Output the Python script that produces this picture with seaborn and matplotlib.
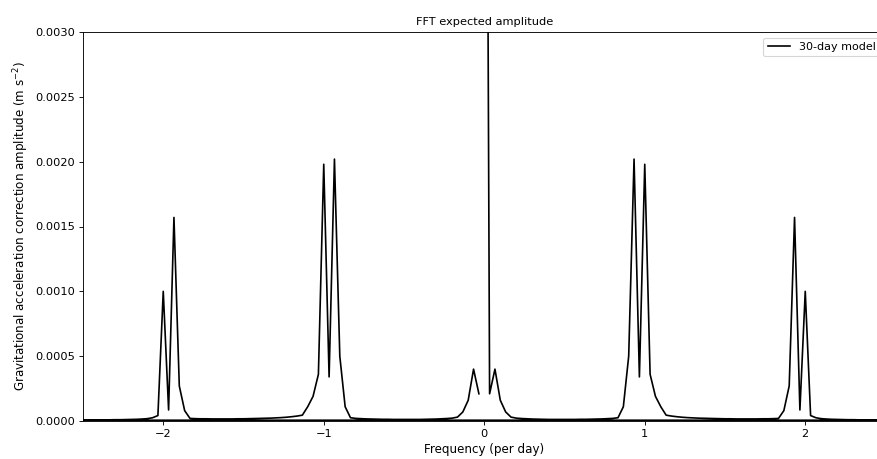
import numpy as np
import pandas as pd
import matplotlib
matplotlib.use("Agg")
import matplotlib.pyplot as plt
import seaborn as sns

# FFT of a 30-day record: bin spacing 1/30 per day, plotted in FFT order
n_days = 30
bins_pos = np.arange(0, 77)      # k = 0 .. 76
bins_neg = np.arange(-76, 0)     # k = -76 .. -1

# amplitudes in units of 1e-4 m s^-2
amp_pos_e4 = [100.0, 2.1, 4.0, 1.6, 0.7, 0.3,
              0.22, 0.19, 0.17, 0.15, 0.14, 0.13, 0.12, 0.12, 0.12, 0.12,
              0.12, 0.12, 0.13, 0.13, 0.14, 0.15, 0.16, 0.18, 0.20, 0.25,
              1.1, 5.0, 20.2, 3.4, 19.8, 3.6, 1.9, 1.1,
              0.45, 0.38, 0.33, 0.29, 0.26, 0.24, 0.22, 0.21, 0.20, 0.19, 0.18,
              0.17, 0.17, 0.16, 0.16, 0.16, 0.16, 0.16, 0.17, 0.17, 0.18,
              0.2, 0.8, 2.7, 15.7, 0.85, 10.0, 0.42,
              0.25, 0.18, 0.15, 0.13, 0.12, 0.11, 0.10, 0.10, 0.09, 0.09,
              0.08, 0.08, 0.07, 0.07, 0.06]
amp_neg_e4 = [0.06, 0.07, 0.07, 0.08, 0.08, 0.09, 0.09, 0.10, 0.10, 0.11,
              0.12, 0.13, 0.15, 0.18, 0.25,
              0.42, 10.0, 0.85, 15.7, 2.7, 0.8, 0.2,
              0.18, 0.17, 0.17, 0.16, 0.16, 0.16, 0.16, 0.16, 0.17, 0.17,
              0.18, 0.19, 0.20, 0.21, 0.22, 0.24, 0.26, 0.29, 0.33, 0.38, 0.45,
              1.1, 1.9, 3.6, 19.8, 3.4, 20.2, 5.0, 1.1,
              0.25, 0.20, 0.18, 0.16, 0.15, 0.14, 0.13, 0.13, 0.12, 0.12,
              0.12, 0.12, 0.12, 0.12, 0.13, 0.14, 0.15, 0.17, 0.19, 0.22,
              0.3, 0.7, 1.6, 4.0, 2.1]

freq = np.concatenate([bins_pos, bins_neg]) / n_days
amp = np.concatenate([amp_pos_e4, amp_neg_e4]) * 1e-4
df = pd.DataFrame({"freq": freq, "amp": amp})

dpi = 80
fig = plt.figure(figsize=(877 / dpi, 459 / dpi), dpi=dpi)
ax = fig.add_axes([83 / 877, 38 / 459, (885.5 - 83) / 877, (421 - 32) / 459])

sns.lineplot(data=df, x="freq", y="amp", sort=False, estimator=None,
             color="black", linewidth=1.5, label="30-day model", ax=ax)

ax.set_xlim(-2.5, 2.5)
ax.set_ylim(0, 0.003)
ax.set_xlabel("Frequency (per day)", fontsize=10.7)
ax.set_ylabel("Gravitational acceleration correction amplitude (m s$^{-2}$)",
              fontsize=10.7)
ax.set_title("FFT expected amplitude", fontsize=10.2)
ax.tick_params(labelsize=10.2)
ax.legend(loc="upper right")

fig.savefig("out.png", dpi=dpi)
